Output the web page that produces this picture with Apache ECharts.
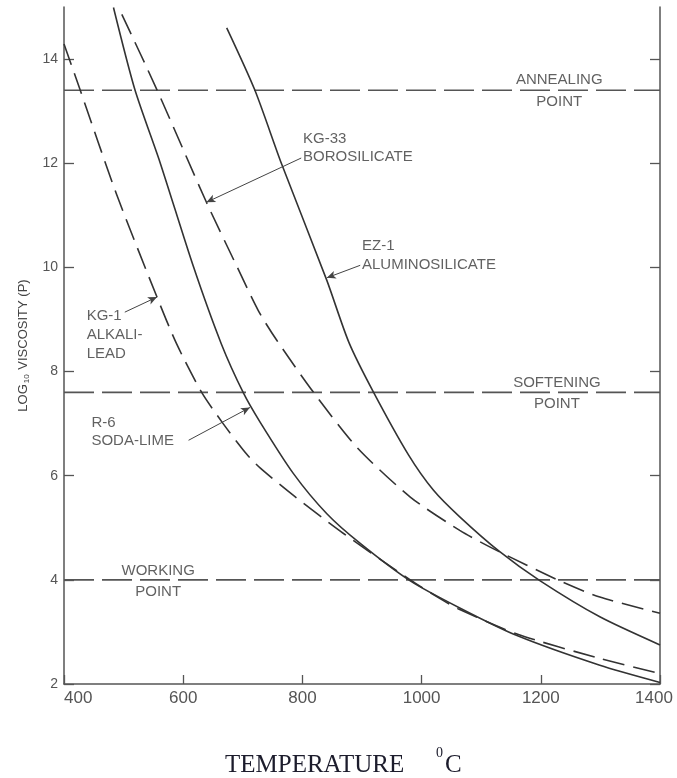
<!DOCTYPE html>
<html>
<head>
<meta charset="utf-8">
<script src="https://cdn.jsdelivr.net/npm/echarts@6.0.0/dist/echarts.min.js"></script>
<style>
  html, body { margin: 0; padding: 0; background: #fff; }
  #main { width: 677px; height: 778px; }
</style>
</head>
<body>
<div id="main"></div>
<script>
// log10 viscosity (poise) against temperature (deg C)
const kg1Temp = [400, 427, 488, 556, 589, 631, 667, 706, 729, 785, 869, 981, 1031, 1064, 1160, 1299, 1400];
const kg1Visc = [14.29, 13.41, 11.41, 9.43, 8.53, 7.6, 7.0, 6.42, 6.15, 5.62, 4.89, 4.0, 3.64, 3.43, 2.96, 2.49, 2.2];

const r6Temp = [483, 519, 561, 617, 664, 701, 729, 785, 841, 897, 981, 1064, 1160, 1299, 1400];
const r6Visc = [14.99, 13.41, 12.02, 10.02, 8.53, 7.59, 7.03, 6.04, 5.27, 4.7, 3.98, 3.46, 2.93, 2.36, 2.03];

const kg33Temp = [497, 556, 639, 690, 726, 757, 818, 891, 981, 1064, 1120, 1232, 1299, 1400];
const kg33Visc = [14.86, 13.41, 11.25, 10.02, 9.17, 8.6, 7.61, 6.55, 5.59, 4.95, 4.6, 3.98, 3.67, 3.36];

const ez1Temp = [673, 720, 765, 841, 878, 919, 978, 1020, 1064, 1130, 1199, 1299, 1400];
const ez1Visc = [14.6, 13.41, 11.99, 9.75, 8.56, 7.61, 6.4, 5.72, 5.21, 4.55, 3.98, 3.29, 2.75];

// annealing, softening, working points
const refLevels = [13.4, 7.6, 4.0];
const xTicks = [400, 600, 800, 1000, 1200, 1400];
const yTicks = [2, 4, 6, 8, 10, 12, 14];

const pairs = (xs, ys) => xs.map((x, i) => [x, ys[i]]);

const INK = '#333';
const LABEL_FONT = '"Liberation Sans", "DejaVu Sans", sans-serif';

// text blocks, placed in data units
const notes = [
  { text: 'KG-33\nBOROSILICATE', at: [801, 12.29], pos: 'right', lh: 18 },
  { text: 'EZ-1\nALUMINOSILICATE', at: [900, 10.24], pos: 'right', lh: 19 },
  { text: 'KG-1\nALKALI-\nLEAD', at: [438, 8.71], pos: 'right', lh: 19 },
  { text: 'R-6\nSODA-LIME', at: [446, 6.84], pos: 'right', lh: 18.5 },
  { text: 'ANNEALING\nPOINT', at: [1231, 13.39], pos: 'inside', lh: 22 },
  { text: 'SOFTENING\nPOINT', at: [1227, 7.58], pos: 'inside', lh: 21.5 },
  { text: 'WORKING\nPOINT', at: [558, 3.97], pos: 'inside', lh: 21 }
];

// leader arrows: [from, to] in data units
const leaders = [
  [[798, 12.1], [639, 11.25]],
  [[897, 10.04], [841, 9.8]],
  [[502, 9.14], [556, 9.43]],
  [[609, 6.68], [712, 7.31]]
];

const chart = echarts.init(document.getElementById('main'));

const curve = (name, data, dashed) => ({
  name: name,
  type: 'line',
  data: data,
  smooth: 0.25,
  showSymbol: false,
  lineStyle: { color: INK, width: 1.6, type: dashed ? [22, 9] : 'solid' }
});

const refLine = (v) => ({
  type: 'line',
  data: [[400, v], [1400, v]],
  showSymbol: false,
  lineStyle: { color: '#555', width: 1.6, type: [30, 8] }
});

chart.setOption({
  animation: false,
  backgroundColor: '#fff',
  grid: { left: 64, right: 17, top: 7, bottom: 94, containLabel: false, outerBoundsMode: 'none' },
  xAxis: {
    type: 'value',
    min: 400,
    max: 1400,
    interval: 200,
    axisLine: { lineStyle: { color: '#555', width: 1.5 } },
    axisTick: { inside: true, length: 9, lineStyle: { color: '#555', width: 1.3 } },
    axisLabel: {
      color: '#555',
      fontSize: 17,
      margin: 6,
      fontFamily: LABEL_FONT,
      alignMinLabel: 'left',
      formatter: (v) => (v === 1400 ? '{last|1400}' : String(v)),
      rich: { last: { fontSize: 17, color: '#555', fontFamily: LABEL_FONT, padding: [0, 12, 0, 0] } }
    },
    splitLine: { show: false }
  },
  yAxis: [
    {
      type: 'value',
      min: 2,
      max: 15,
      position: 'left',
      name: '{a|LOG}{s|10}{a| VISCOSITY (P)}',
      nameLocation: 'middle',
      nameGap: 33,
      nameTextStyle: {
        rich: {
          a: { fontSize: 13, color: '#444', fontFamily: LABEL_FONT },
          s: { fontSize: 8, color: '#444', fontFamily: LABEL_FONT, padding: [8, 1, 0, 1] }
        }
      },
      axisLine: { show: true, lineStyle: { color: '#555', width: 1.5 } },
      axisTick: { inside: true, length: 10, customValues: yTicks, lineStyle: { color: '#555', width: 1.3 } },
      axisLabel: { customValues: yTicks, color: '#555', fontSize: 14, margin: 6, fontFamily: LABEL_FONT },
      splitLine: { show: false }
    },
    {
      type: 'value',
      min: 2,
      max: 15,
      position: 'right',
      axisLine: { show: true, lineStyle: { color: '#555', width: 1.5 } },
      axisTick: { inside: true, length: 10, customValues: yTicks, lineStyle: { color: '#555', width: 1.3 } },
      axisLabel: { show: false },
      splitLine: { show: false }
    }
  ],
  series: [
    refLine(refLevels[0]),
    refLine(refLevels[1]),
    refLine(refLevels[2]),
    curve('KG-1', pairs(kg1Temp, kg1Visc), true),
    curve('R-6', pairs(r6Temp, r6Visc), false),
    curve('KG-33', pairs(kg33Temp, kg33Visc), true),
    curve('EZ-1', pairs(ez1Temp, ez1Visc), false),
    {
      type: 'scatter',
      symbolSize: 0,
      silent: true,
      data: notes.map((n) => ({
        value: n.at,
        label: {
          show: true,
          formatter: n.text,
          position: n.pos,
          distance: 0,
          align: n.pos === 'right' ? 'left' : 'center',
          lineHeight: n.lh,
          fontSize: 15,
          color: '#3a3a3a',
          fontFamily: LABEL_FONT
        }
      })),
      markLine: {
        silent: true,
        symbol: ['none', 'arrow'],
        symbolSize: [6, 9],
        label: { show: false },
        lineStyle: { color: '#444', width: 1, type: 'solid' },
        data: leaders.map((l) => [{ coord: l[0] }, { coord: l[1] }])
      }
    }
  ],
  graphic: [
    {
      type: 'text',
      left: 225,
      top: 753,
      style: { text: 'TEMPERATURE', font: '25px "Liberation Serif", serif', fill: '#1c1c2c' }
    },
    {
      type: 'text',
      left: 436,
      top: 746,
      style: { text: '0', font: '14px "Liberation Serif", serif', fill: '#1c1c2c' }
    },
    {
      type: 'text',
      left: 445,
      top: 753,
      style: { text: 'C', font: '25px "Liberation Serif", serif', fill: '#1c1c2c' }
    }
  ]
});
</script>
</body>
</html>
